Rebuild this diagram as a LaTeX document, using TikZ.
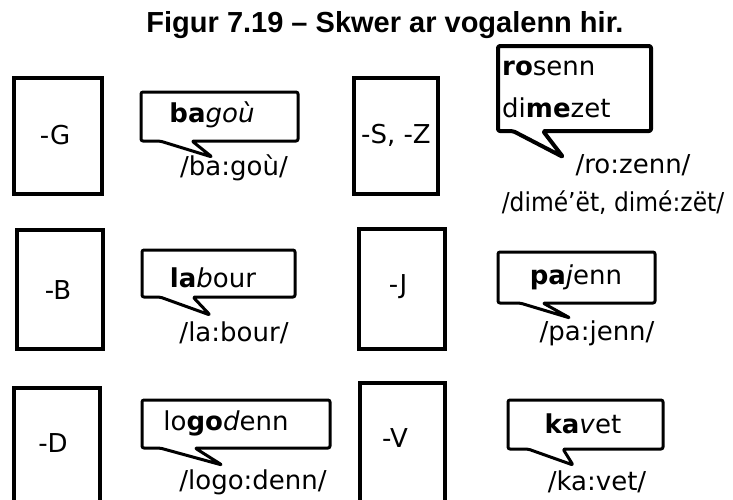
\documentclass[tikz,border=0pt]{standalone}
\usepackage{fontspec}
\setmainfont{DejaVu Sans}
\newfontfamily\titlefont{Liberation Sans}
\begin{document}
\begin{tikzpicture}[x=1pt,y=-1pt,
  letterbox/.style={draw=black,line width=4.5pt},
  bubble/.style={draw=black,line width=3pt,fill=white,rounded corners=2pt,line join=round},
  txt/.style={inner sep=0pt,font=\fontsize{26}{30}\selectfont},
  ttl/.style={inner sep=0pt,font=\titlefont\bfseries\fontsize{29}{34}\selectfont}]
\useasboundingbox (0,0) rectangle (733,499);
\begin{scope}
\clip (0,0) rectangle (733,499);
% title
\node[ttl,anchor=base] (title) at (385,32) {Figur 7.19 – Skwer ar vogalenn hir.};
% letter boxes
\draw[letterbox] (14,78) rectangle (102,194);
\node[txt] (g) at (55,135) {-G};
\draw[letterbox] (354,78) rectangle (438,194);
\node[txt] (sz) at (396,135) {-S, -Z};
\draw[letterbox] (17,230) rectangle (103,349);
\node[txt] (b) at (58,290) {-B};
\draw[letterbox] (359,229) rectangle (445,349);
\node[txt] (j) at (398,287) {-J};
\draw[letterbox] (14,388) rectangle (100,520);
\node[txt] (d) at (53,443) {-D};
\draw[letterbox] (360,383) rectangle (445,520);
\node[txt] (v) at (395,438) {-V};
% bubbles
\draw[bubble] (141,92) -- (298,92) -- (298,141) -- (192,141) -- (212,157) -- (160,141) -- (141,141) -- cycle;
\node[txt] (bagou) at (212,115) {\textbf{ba}\textit{goù}};
\node[txt] (bagoup) at (234,168) {/ba:goù/};
\draw[bubble] (142,250) -- (295,250) -- (295,297) -- (193,297) -- (210,315) -- (160,297) -- (142,297) -- cycle;
\node[txt] (labour) at (213,278) {\textbf{la}\textit{b}our};
\node[txt] (labourp) at (234,333) {/la:bour/};
\draw[bubble] (142,400) -- (330,400) -- (330,448) -- (195,448) -- (222,465) -- (160,448) -- (142,448) -- cycle;
\node[txt] (logodenn) at (226,423) {lo\textbf{go}\textit{d}enn};
\node[txt] (logodennp) at (253,482) {/logo:denn/};
\draw[bubble,line width=4pt] (498,46) -- (651,46) -- (651,131) -- (543,131) -- (563,157) -- (513,131) -- (498,131) -- cycle;
\node[txt,anchor=west] (rosenn) at (502,68) {\textbf{ro}senn};
\node[txt,anchor=west] (dimezet) at (502,108) {di\textbf{me}zet};
\node[txt] (rosennp) at (633,165) {/ro:zenn/};
\node[txt] (dimezetp) at (613,203) {\scalebox{0.9}[1]{/dimé’ët, dimé:zët/}};
\draw[bubble] (498,252) -- (655,252) -- (655,303) -- (543,303) -- (570,318) -- (520,303) -- (498,303) -- cycle;
\node[txt] (pajenn) at (576,277) {\textbf{pa}\textit{j}enn};
\node[txt] (pajennp) at (597,333) {/pa:jenn/};
\draw[bubble] (508,400) -- (663,400) -- (663,449) -- (563,449) -- (573,465) -- (528,449) -- (508,449) -- cycle;
\node[txt] (kavet) at (583,424) {\textbf{ka}\textit{v}et};
\node[txt] (kavetp) at (597,482) {/ka:vet/};
\end{scope}
\end{tikzpicture}
\end{document}
